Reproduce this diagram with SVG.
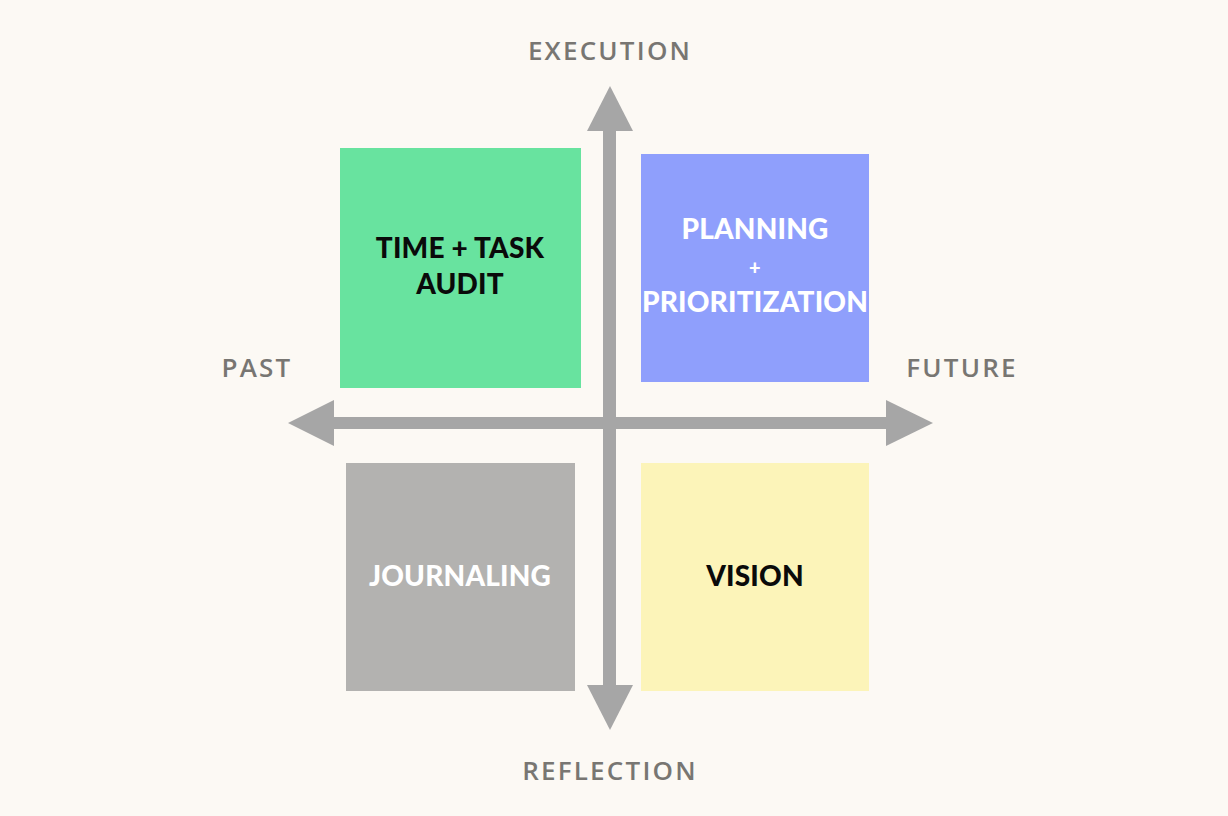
<svg xmlns="http://www.w3.org/2000/svg" width="1228" height="816" viewBox="0 0 1228 816">
<style>
.axis{font-family:"Open Sans","Liberation Sans",sans-serif;font-weight:600;font-size:26px;fill:#787672;letter-spacing:2.2px;text-anchor:middle}
.box{font-family:"Lato","Liberation Sans",sans-serif;font-weight:900;font-size:28px;letter-spacing:0.2px;text-anchor:middle}
.dark{fill:#0a0a0a}.light{fill:#ffffff}
.ar{fill:#a6a6a6}
</style>
<rect width="1228" height="816" fill="#fcf9f4"/>
<g id="connectors">
<rect class="ar" x="603" y="128" width="13" height="560"/>
<rect class="ar" x="330" y="417" width="560" height="12"/>
<polygon class="ar" points="610,86 587,131 633,131"/>
<polygon class="ar" points="610,730 587,685 633,685"/>
<polygon class="ar" points="288,423 334,400 334,446"/>
<polygon class="ar" points="933,423 886,400 886,446"/>
</g>
<g id="label-execution"><text class="axis" x="610" y="60">EXECUTION</text></g>
<g id="label-reflection"><text class="axis" x="610" y="780">REFLECTION</text></g>
<g id="label-past"><text class="axis" x="257" y="377">PAST</text></g>
<g id="label-future"><text class="axis" x="962" y="377">FUTURE</text></g>
<g id="node-audit">
<rect x="340" y="148" width="241" height="240" fill="#68e39f"/>
<text class="box dark" x="460" y="258">TIME + TASK</text>
<text class="box dark" x="460" y="294">AUDIT</text>
</g>
<g id="node-planning">
<rect x="641" y="154" width="228" height="228" fill="#8f9ffc"/>
<text class="box light" x="755" y="239">PLANNING</text>
<text class="box light" x="755" y="275" style="font-size:20px">+</text>
<text class="box light" x="755" y="312">PRIORITIZATION</text>
</g>
<g id="node-journaling">
<rect x="346" y="463" width="229" height="228" fill="#b3b2b0"/>
<text class="box light" x="460" y="586">JOURNALING</text>
</g>
<g id="node-vision">
<rect x="641" y="463" width="228" height="228" fill="#fcf4b9"/>
<text class="box dark" x="755" y="586">VISION</text>
</g>
</svg>
